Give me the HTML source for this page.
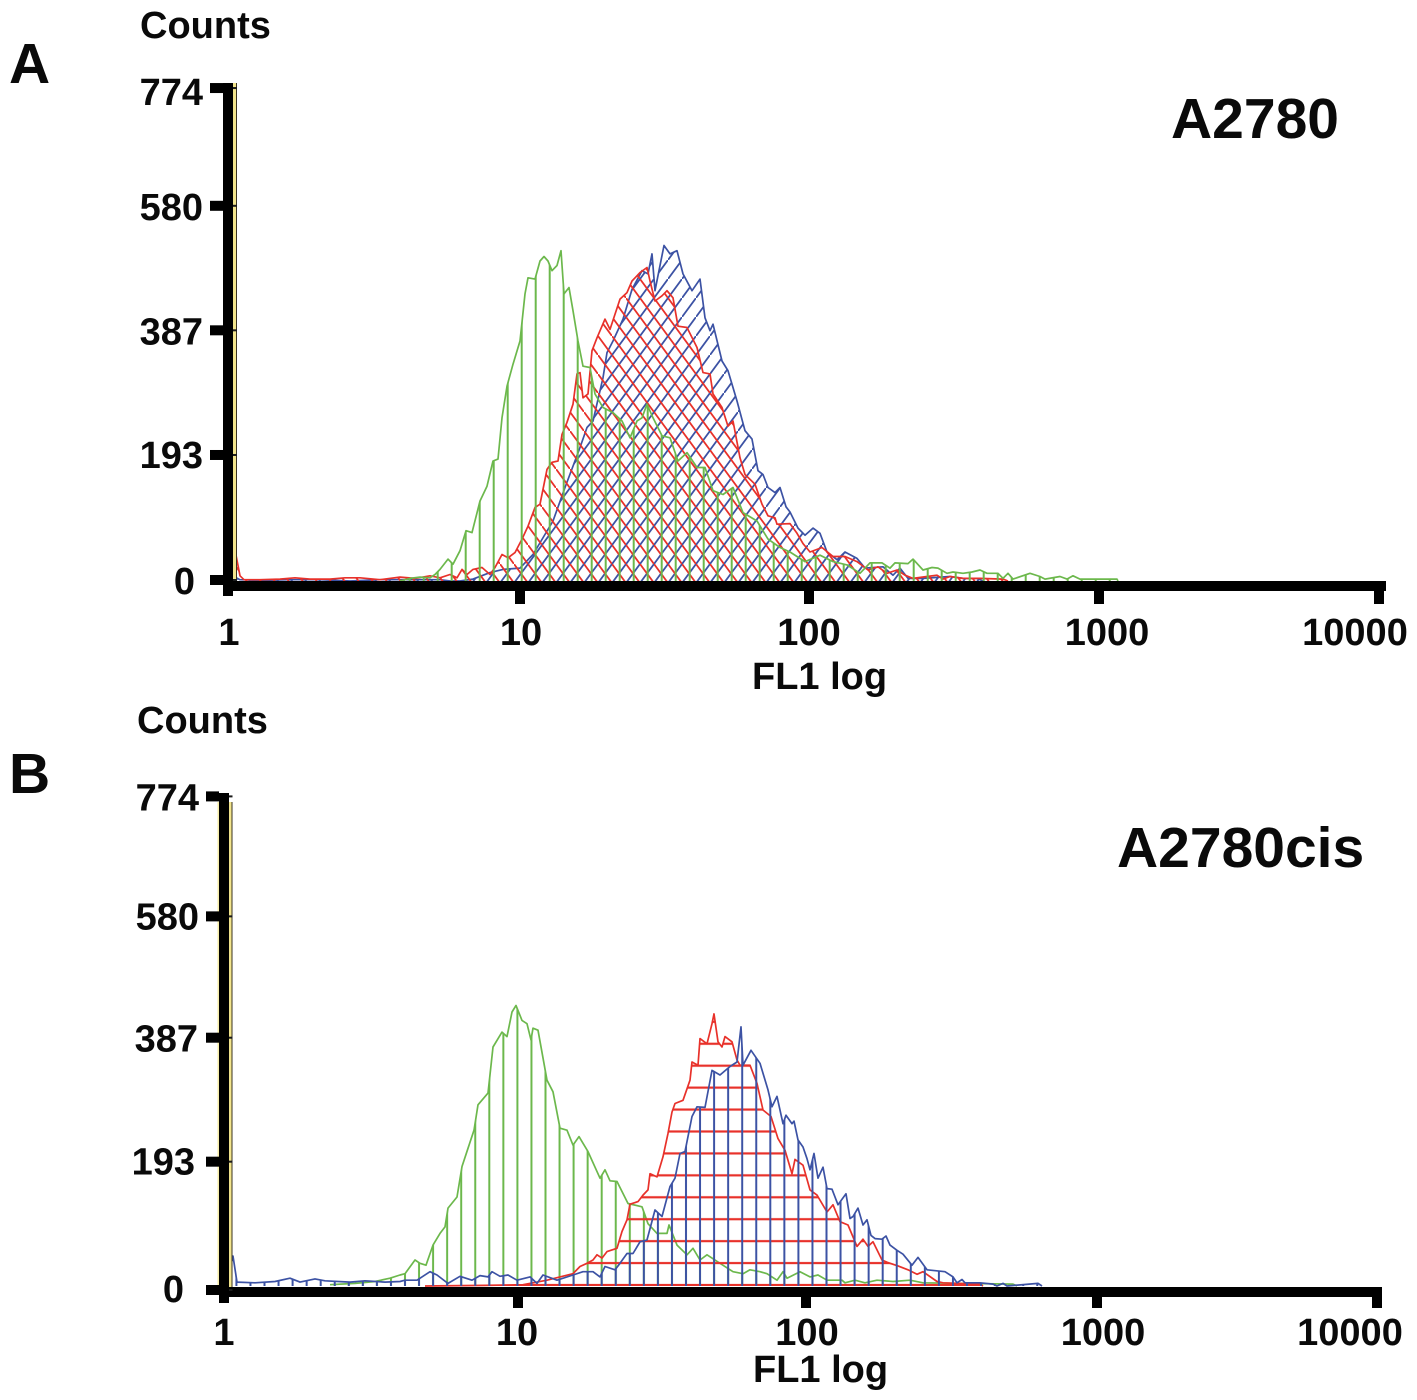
<!DOCTYPE html>
<html lang="en">
<head>
<meta charset="utf-8">
<title>FL1 log histograms: A2780 and A2780cis</title>
<style>
html,body{margin:0;padding:0;background:#fff;}
svg{display:block;}
text{font-family:"Liberation Sans",Arial,sans-serif;font-weight:bold;fill:#0a0a0a;}
</style>
</head>
<body>
<svg id="figure" xmlns="http://www.w3.org/2000/svg" width="1417" height="1400" viewBox="0 0 1417 1400">
<rect width="1417" height="1400" fill="#fff"/>
<defs>
<pattern id="a-green" patternUnits="userSpaceOnUse" x="521.7" y="0" width="14" height="20"><rect x="-1" y="0" width="2" height="20" fill="#6cb84c"/><rect x="13" y="0" width="2" height="20" fill="#6cb84c"/></pattern>
<pattern id="a-red" patternUnits="userSpaceOnUse" x="640" y="355" width="14" height="19"><path d="M-1,-1.36 L15,20.36" stroke="#e8312a" stroke-width="1.8" fill="none"/></pattern>
<pattern id="a-blue" patternUnits="userSpaceOnUse" x="640" y="355" width="14" height="19"><path d="M-1,20.36 L15,-1.36" stroke="#3c52a4" stroke-width="1.8" fill="none"/></pattern>
<pattern id="b-green" patternUnits="userSpaceOnUse" x="405" y="0" width="14.05" height="20"><rect x="-1" y="0" width="2" height="20" fill="#6cb84c"/><rect x="13.05" y="0" width="2" height="20" fill="#6cb84c"/></pattern>
<pattern id="b-blue" patternUnits="userSpaceOnUse" x="405" y="0" width="14.05" height="20"><rect x="-1" y="0" width="2" height="20" fill="#3c52a4"/><rect x="13.05" y="0" width="2" height="20" fill="#3c52a4"/></pattern>
<pattern id="b-red" patternUnits="userSpaceOnUse" x="0" y="1285" width="20" height="21.93"><rect x="0" y="-1.1" width="20" height="2.2" fill="#e8312a"/><rect x="0" y="20.83" width="20" height="2.2" fill="#e8312a"/></pattern>
</defs>
</svg>
<script>
// Shared axis data
var yTickCounts = [0, 193, 387, 580, 774];
var xTickLabels = ["1", "10", "100", "1000", "10000"];
var panelATickChannels = [-2, 290, 579, 869, 1149];
var panelBTickChannels = [-1, 293, 581, 872, 1152];

// Panel A: A2780
var aGreenChannels = [170,180,190,200,205,210,218,223,230,236,242,250,257,263,268,272,277,283,290,295,298,305,310,314,318,322,327,331,334,339,343,348,353,360,365,373,383,392,400,407,412,417,423,432,440,448,457,467,475,483,493,503,513,527,538,550,560,575,590,603,617,630,640,652,660,665,678,683,693,702,708,717,723,733,742,750,757,768,773,778,783,800,810,815,830,837,843,850,887,888];
var aGreenCounts = [0,4,6,5,10,18,34,26,47,78,75,124,147,186,189,253,302,336,372,445,470,468,496,503,496,481,489,512,445,455,419,372,333,331,290,269,261,248,222,248,253,274,253,225,222,186,199,176,176,140,134,145,106,93,65,52,45,30,40,30,25,12,28,28,20,28,27,34,17,21,20,12,14,12,14,17,12,12,4,12,3,12,7,3,7,3,8,3,3,0];
var aRedChannels = [0,3,6,10,14,30,50,65,80,100,115,130,150,170,185,200,210,220,227,232,237,243,252,260,265,272,278,285,292,298,305,310,317,322,328,332,337,343,347,350,353,358,362,367,375,380,390,397,402,410,417,420,425,432,437,443,448,457,467,473,480,483,492,498,503,510,515,525,532,538,545,547,560,567,573,580,592,603,615,627,638,648,657,667,675,683,697,707,713,720,733,750,773,778];
var aRedCounts = [0,10,40,8,2,2,3,5,3,3,5,5,2,6,4,8,5,10,5,18,10,18,21,10,21,41,36,44,65,85,114,119,173,184,186,227,246,274,321,323,284,290,357,377,406,390,437,447,465,478,486,465,434,442,450,439,395,393,362,323,321,290,269,240,248,191,165,150,119,101,98,88,89,74,58,45,52,38,38,30,17,22,12,17,9,4,7,9,3,7,4,4,3,0];
var aBlueChannels = [0,5,10,30,60,90,120,150,180,210,220,230,243,260,273,290,303,323,335,350,357,363,373,377,383,393,402,412,418,422,425,434,440,447,453,462,470,475,480,483,492,498,507,515,522,528,533,538,545,550,556,560,568,575,583,590,597,607,615,627,635,653,663,670,678,693,720,733,747,753];
var aBlueCounts = [0,6,2,1,2,2,0,2,2,2,0,0,3,13,18,20,41,93,145,207,238,248,315,354,372,406,452,481,476,507,450,520,507,512,476,450,468,408,388,398,341,326,279,233,220,171,165,145,137,145,115,107,82,71,82,74,45,33,45,35,20,22,9,20,4,4,7,4,4,0];

// Panel B: A2780cis
var bGreenChannels = [105,130,150,165,175,180,190,195,201,208,215,220,223,232,237,243,249,253,263,268,277,282,287,291,297,302,306,308,313,322,328,335,342,348,354,363,375,380,385,392,403,417,423,432,442,444,452,462,468,475,482,495,508,518,525,535,542,552,558,562,575,585,593,602,617,620,630,640,652,668,685,698,788,792];
var bGreenCounts = [2,4,7,12,17,19,40,35,32,63,81,91,120,137,184,212,240,279,297,368,391,384,422,432,409,404,379,397,394,317,299,243,240,217,230,207,166,179,162,161,127,122,96,81,81,94,63,48,58,40,48,35,22,19,25,22,19,9,22,12,22,14,17,9,9,5,9,5,9,7,9,5,3,0];
var bBlueChannels = [0,4,8,12,30,50,65,75,90,100,125,140,160,175,180,192,205,212,223,235,247,255,263,267,275,283,292,305,312,318,332,348,358,368,375,380,390,395,402,408,415,422,430,437,445,450,455,460,467,472,480,487,495,505,512,516,518,526,535,543,547,552,558,561,567,569,573,578,582,585,589,593,598,602,607,613,621,625,628,633,638,642,646,650,657,661,665,672,678,687,693,702,720,728,732,737,740,755,768,772,778,782,813,817];
var bBlueCounts = [0,20,46,6,5,7,12,6,11,8,6,8,6,7,9,9,22,17,4,15,9,16,14,22,15,17,9,14,4,17,9,17,22,22,14,30,25,35,50,50,68,71,117,107,153,166,204,207,261,276,275,332,325,338,345,399,340,363,343,302,276,292,250,263,250,254,225,214,196,179,204,166,183,150,149,125,142,104,107,120,94,102,78,73,72,77,63,55,49,32,44,25,22,14,5,10,5,5,3,0,4,0,4,0];
var bRedChannels = [200,260,298,322,335,348,355,362,368,372,377,382,392,397,402,405,413,418,423,425,432,438,443,447,450,458,465,467,473,475,482,487,489,493,497,500,507,512,515,525,532,538,546,553,560,567,570,578,585,592,602,608,615,623,632,638,643,648,657,663,673,683,692,698,712,718,732,755,758];
var bRedCounts = [0,1,2,9,14,19,30,35,40,48,43,53,58,84,102,126,130,140,148,173,168,199,235,268,281,286,317,345,340,381,373,404,419,376,368,384,376,348,340,340,312,271,261,227,209,173,195,186,148,140,114,125,99,94,61,72,61,68,40,36,31,25,18,22,7,5,4,3,0];

var svg = document.getElementById('figure');
var NS = 'http://www.w3.org/2000/svg';

function addRect(parent, name, x, y, w, h, fill) {
  var r = document.createElementNS(NS, 'rect');
  
  
  r.setAttribute('x', x);
  r.setAttribute('y', y);
  r.setAttribute('width', w);
  r.setAttribute('height', h);
  r.setAttribute('fill', fill);
  parent.appendChild(r);
  return r;
}

function addText(parent, name, str, x, y, size, anchor) {
  var t = document.createElementNS(NS, 'text');
  
  
  t.setAttribute('x', x);
  t.setAttribute('y', y);
  t.setAttribute('font-size', size);
  if (anchor) t.setAttribute('text-anchor', anchor);
  t.textContent = str;
  parent.appendChild(t);
  return t;
}

function drawSeries(parent, name, channels, counts, xScale, yScale, color, patternId) {
  var pts = [];
  for (var i = 0; i < channels.length; i++) {
    pts.push(xScale(channels[i]).toFixed(1) + ',' + yScale(counts[i]).toFixed(1));
  }
  var base = yScale(0).toFixed(1);
  var first = xScale(channels[0]).toFixed(1);
  var last = xScale(channels[channels.length - 1]).toFixed(1);
  var area = document.createElementNS(NS, 'path');
  
  
  area.setAttribute('d', 'M' + first + ',' + base + ' L' + pts.join(' L') + ' L' + last + ',' + base + ' Z');
  area.setAttribute('fill', 'url(#' + patternId + ')');
  parent.appendChild(area);
  var line = document.createElementNS(NS, 'polyline');
  
  
  line.setAttribute('points', pts.join(' '));
  line.setAttribute('fill', 'none');
  line.setAttribute('stroke', color);
  line.setAttribute('stroke-width', '1.7');
  line.setAttribute('stroke-linejoin', 'round');
  parent.appendChild(line);
}

function drawPanel(p) {
  var g = document.createElementNS(NS, 'g');
  
  
  svg.appendChild(g);

  var xScale = function (ch) { return p.originX + ch; };
  var yScale = function (c) { return p.baseY - c / p.countsPerPx; };

  // Histograms
  p.series.forEach(function (s) {
    drawSeries(g, s.name, s.channels, s.counts, xScale, yScale, s.color, s.pattern);
  });

  // Yellow trace lines alongside the y axis
  addRect(g, 'y-axis-yellow-line', p.yellowX, p.yellowTop, p.yellowW, p.axisY - p.yellowTop, '#f2e48c');
  addRect(g, 'y-axis-dark-edge', p.yellowX + p.yellowW, p.yellowTop, 1, p.axisY - p.yellowTop, '#3a3320');
  if (p.paleLeftX) {
    addRect(g, 'y-axis-pale-line', p.paleLeftX, p.yellowTop, 2, p.axisY - p.yellowTop, '#f6eca8');
  }

  // Axes
  addRect(g, 'x-axis-line', p.axisX, p.axisY, p.axisRight - p.axisX, 10, '#000');
  addRect(g, 'y-axis-line', p.axisX, p.axisTop, 10, p.originSpur - p.axisTop, '#000');

  // Y ticks
  yTickCounts.forEach(function (c, i) {
    var cy = yScale(c) + p.yTickNudge[i];
    addRect(g, 'y-tick-' + c, p.axisX - p.yTickLen, cy - 5, p.yTickLen, 10, '#000');
    addRect(g, 'y-tick-crossing-' + c, p.yellowX, cy - 1, p.yellowW + 1, 2, '#1a1a1a');
    addText(g, 'y-tick-label-' + c, String(c), p.yLabelEnd[i], cy + p.yLabelDrop[i], 38, 'end');
  });

  // X ticks
  xTickLabels.forEach(function (label, i) {
    var tx = xScale(p.tickChannels[i]);
    if (i > 0) {
      addRect(g, 'x-tick-' + label, tx - 5, p.axisY + 10, 10, p.xTickLen, '#000');
    }
    addText(g, 'x-tick-label-' + label, label, tx + p.xLabelShift[i], p.xLabelY, 38, 'middle');
  });

  addText(g, 'x-axis-title', 'FL1 log', p.xTitleX, p.xTitleY, 38);
  addText(g, 'y-axis-title', 'Counts', p.yTitleX, p.yTitleY, 38);
  addText(g, 'panel-letter', p.letter, p.letterX, p.letterY, 57);
  addText(g, 'cell-line-title', p.title, p.titleX, p.titleY, 57);
}

drawPanel({
  name: 'panel-a2780',
  originX: 230, baseY: 581, countsPerPx: 1.55,
  axisX: 223, axisY: 581, axisTop: 83, axisRight: 1386, originSpur: 596,
  yellowX: 233, yellowTop: 83, yellowW: 3,
  yTickLen: 13, xTickLen: 13,
  yTickNudge: [-1, -1.5, -1, -1, 6.4],
  yLabelDrop: [14, 13, 14, 14, 17],
  yLabelEnd: [195, 203, 203, 203, 203],
  tickChannels: panelATickChannels,
  xLabelShift: [1, 1, 0, 8, -24], xLabelY: 645,
  xTitleX: 752, xTitleY: 689,
  yTitleX: 140, yTitleY: 38,
  letter: 'A', letterX: 9, letterY: 83,
  title: 'A2780', titleX: 1171, titleY: 138,
  series: [
    { name: 'a2780-blue-histogram', channels: aBlueChannels, counts: aBlueCounts, color: '#3c52a4', pattern: 'a-blue' },
    { name: 'a2780-red-histogram', channels: aRedChannels, counts: aRedCounts, color: '#e8312a', pattern: 'a-red' },
    { name: 'a2780-green-histogram', channels: aGreenChannels, counts: aGreenCounts, color: '#6cb84c', pattern: 'a-green' }
  ]
});

drawPanel({
  name: 'panel-a2780cis',
  originX: 225, baseY: 1286, countsPerPx: 1.54,
  axisX: 219, axisY: 1287, axisTop: 793, axisRight: 1382, originSpur: 1303,
  yellowX: 229, yellowTop: 802, yellowW: 2.5, paleLeftX: 217.5,
  yTickLen: 13, xTickLen: 11,
  yTickNudge: [4, 1, 3, 7, 13],
  yLabelDrop: [12, 13, 14, 13, 14],
  yLabelEnd: [184, 195, 198, 199, 199],
  tickChannels: panelBTickChannels,
  xLabelShift: [0, -1, 1, 6, -27], xLabelY: 1345,
  xTitleX: 753, xTitleY: 1382,
  yTitleX: 137, yTitleY: 733,
  letter: 'B', letterX: 9, letterY: 793,
  title: 'A2780cis', titleX: 1117, titleY: 867,
  series: [
    { name: 'a2780cis-green-histogram', channels: bGreenChannels, counts: bGreenCounts, color: '#6cb84c', pattern: 'b-green' },
    { name: 'a2780cis-red-histogram', channels: bRedChannels, counts: bRedCounts, color: '#e8312a', pattern: 'b-red' },
    { name: 'a2780cis-blue-histogram', channels: bBlueChannels, counts: bBlueCounts, color: '#3c52a4', pattern: 'b-blue' }
  ]
});
</script>
</body>
</html>
